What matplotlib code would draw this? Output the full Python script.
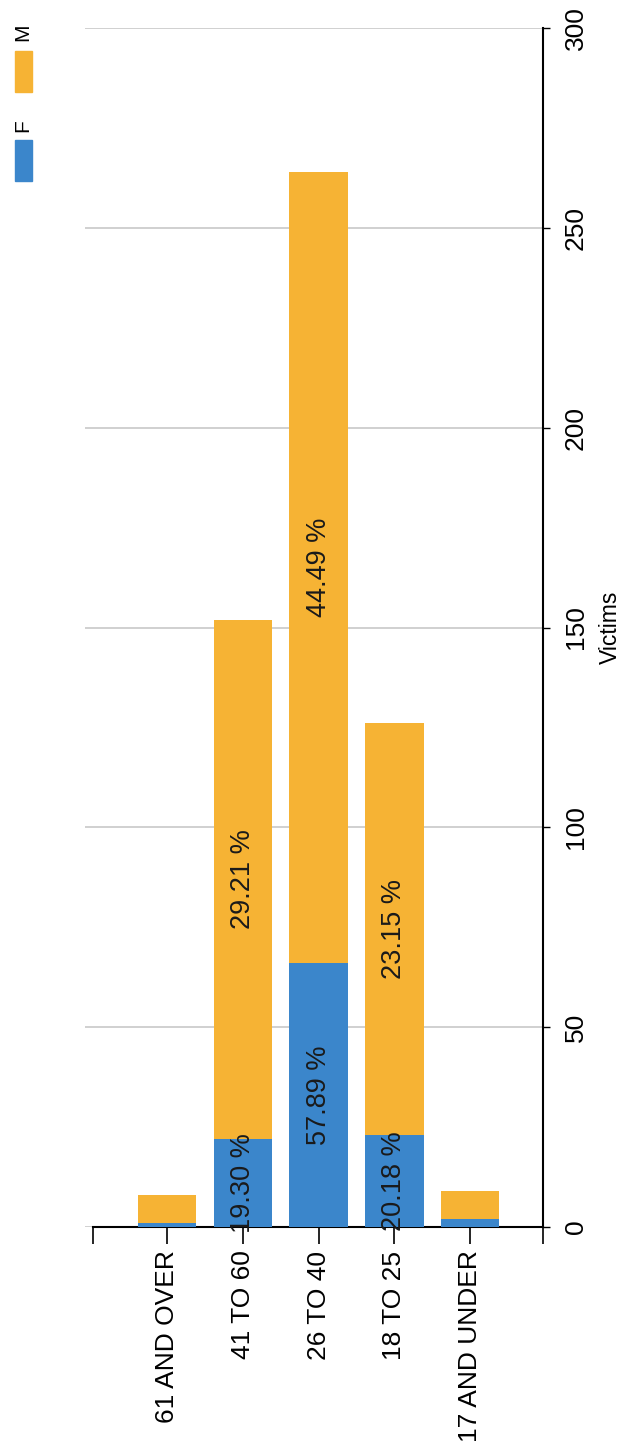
import matplotlib
matplotlib.use("Agg")
import matplotlib.pyplot as plt
from matplotlib.patches import Rectangle
import numpy as np

# victims per age group, split by sex
age_groups = ["61 AND OVER", "41 TO 60", "26 TO 40", "18 TO 25", "17 AND UNDER"]
female = [1, 22, 66, 23, 2]
male = [7, 130, 198, 103, 7]

value_ticks = [0, 50, 100, 150, 200, 250, 300]

BLUE = "#3b86cb"
ORANGE = "#f6b334"


def main():
    plt.rcParams["font.family"] = ["Liberation Sans", "DejaVu Sans"]

    W, H = 626, 1451
    fig = plt.figure(figsize=(W / 100, H / 100), dpi=100)
    ax = fig.add_axes([85 / W, (H - 1227) / H, (543 - 85) / W, (1227 - 28) / H])

    x = np.arange(len(age_groups))
    f = np.array(female)
    m = np.array(male)

    ax.bar(x, f, width=0.77, color=BLUE, zorder=3)
    ax.bar(x, m, width=0.77, bottom=f, color=ORANGE, zorder=3)

    # share of each sex's total, written inside the larger segments
    f_pct = f / f.sum() * 100
    m_pct = m / m.sum() * 100
    for i in range(len(x)):
        if f[i] >= 10:
            ax.text(x[i], f[i] / 2, "%.2f %%" % f_pct[i], rotation=90,
                    ha="center", va="center", fontsize=19.5, color="#1a1a1a", zorder=4)
        if m[i] >= 10:
            ax.text(x[i], f[i] + m[i] / 2, "%.2f %%" % m_pct[i], rotation=90,
                    ha="center", va="center", fontsize=19.5, color="#1a1a1a", zorder=4)

    x_lo, x_hi = -0.98, 4.96
    ax.set_xlim(-1.08, x_hi)
    ax.set_ylim(0, 300)

    ax.set_yticks(value_ticks)
    ax.grid(axis="y", color="#c8c8c8", linewidth=1.2, zorder=0)
    ax.yaxis.tick_right()
    ax.yaxis.set_label_position("right")
    for lab in ax.get_yticklabels():
        lab.set_rotation(90)
        lab.set_va("center")
    ax.tick_params(axis="y", which="major", direction="out", length=5,
                   width=1, labelsize=19, pad=10, left=False, right=True)
    ax.set_ylabel("Victims", fontsize=16.5, labelpad=8, rotation=90)

    ax.set_xticks(x)
    ax.set_xticklabels(age_groups, rotation=90, fontsize=19)
    ax.set_xticks([x_lo, x_hi], minor=True)
    ax.tick_params(axis="x", which="both", direction="out", length=12, width=1.2, pad=5)

    for side in ["top", "left"]:
        ax.spines[side].set_visible(False)
    ax.spines["bottom"].set_bounds(x_lo, x_hi)
    ax.spines["bottom"].set_linewidth(1.5)
    ax.spines["right"].set_linewidth(1.5)

    # legend drawn in pixel space, stacked vertically
    def px_rect(x0, y0, x1, y1, color):
        fig.add_artist(Rectangle((x0 / W, (H - y1) / H), (x1 - x0) / W, (y1 - y0) / H,
                                 transform=fig.transFigure, color=color))

    px_rect(15, 140, 32, 181, BLUE)
    fig.text(23 / W, (H - 126) / H, "F", rotation=90, ha="center", va="center", fontsize=15)
    px_rect(15, 51, 32, 92, ORANGE)
    fig.text(23 / W, (H - 32) / H, "M", rotation=90, ha="center", va="center", fontsize=15)

    fig.savefig("out.png", dpi=100, facecolor="white")


if __name__ == "__main__":
    main()
